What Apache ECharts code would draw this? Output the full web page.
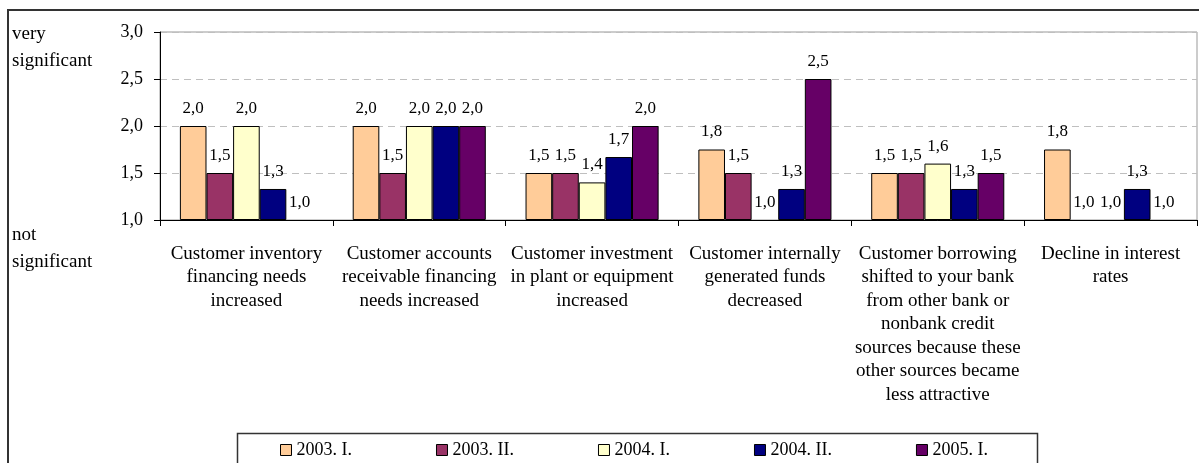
<!DOCTYPE html>
<html>
<head>
<meta charset="utf-8">
<script src="https://cdn.jsdelivr.net/npm/echarts@6/dist/echarts.min.js"></script>
<style>
  html, body { margin: 0; padding: 0; background: #fff; }
  #chart { width: 1199px; height: 463px; }
</style>
</head>
<body>
<div id="chart"></div>
<script>
// Factors behind loan demand, average answers (1 = not significant, 3 = very significant)
const categories = [
  'Customer inventory\nfinancing needs\nincreased',
  'Customer accounts\nreceivable financing\nneeds increased',
  'Customer investment\nin plant or equipment\nincreased',
  'Customer internally\ngenerated funds\ndecreased',
  'Customer borrowing\nshifted to your bank\nfrom other bank or\nnonbank credit\nsources because these\nother sources became\nless attractive',
  'Decline in interest\nrates'
];

const seriesNames = ['2003. I.', '2003. II.', '2004. I.', '2004. II.', '2005. I.'];

const values2003I  = [2.0, 2.0, 1.5, 1.75, 1.5, 1.75];
const values2003II = [1.5, 1.5, 1.5, 1.5, 1.5, 1.0];
const values2004I  = [2.0, 2.0, 1.4, 1.0, 1.6, 1.0];
const values2004II = [1.33, 2.0, 1.67, 1.33, 1.33, 1.33];
const values2005I  = [1.0, 2.0, 2.0, 2.5, 1.5, 1.0];

const yTicks = { min: 1, max: 3, step: 0.5 };

const colors = ['#FFCC99', '#993366', '#FFFFCC', '#000080', '#660066'];
const allValues = [values2003I, values2003II, values2004I, values2004II, values2005I];

const FONT = '"Liberation Serif", "Times New Roman", serif';
const fmt = v => Number(v).toFixed(1).replace('.', ',');

const chart = echarts.init(document.getElementById('chart'), null, { renderer: 'canvas' });

const series = seriesNames.map((name, i) => ({
  name,
  type: 'bar',
  // bars sitting on the axis minimum have no height, so no outline either
  data: allValues[i].map(v => ({
    value: v,
    itemStyle: v <= yTicks.min ? { borderWidth: 0 } : undefined
  })),
  barGap: '0%',
  barCategoryGap: '23%',
  itemStyle: { color: colors[i], borderColor: '#000', borderWidth: 1 },
  label: {
    show: true,
    position: 'top',
    distance: 9,
    formatter: p => fmt(p.value),
    fontFamily: FONT,
    fontSize: 17,
    color: '#000'
  }
}));

chart.setOption({
  animation: false,
  backgroundColor: '#fff',
  grid: {
    left: 160, top: 32, width: 1037, height: 188,
    show: true, borderColor: '#999', borderWidth: 1, backgroundColor: 'transparent'
  },
  legend: {
    data: seriesNames,
    left: 280, top: 440,
    padding: 0,
    itemGap: 84,
    itemWidth: 11, itemHeight: 11,
    icon: 'rect',
    itemStyle: { borderColor: '#000', borderWidth: 1 },
    textStyle: { fontFamily: FONT, fontSize: 18, color: '#000', lineHeight: 20 }
  },
  xAxis: {
    type: 'category',
    data: categories,
    axisLine: { lineStyle: { color: '#000', width: 1 } },
    axisTick: { show: true, length: 6, lineStyle: { color: '#000' } },
    axisLabel: {
      interval: 0, margin: 22, fontFamily: FONT, fontSize: 19,
      lineHeight: 23.5, color: '#000', align: 'center'
    },
    splitLine: { show: false }
  },
  yAxis: {
    type: 'value',
    min: yTicks.min, max: yTicks.max, interval: yTicks.step,
    startValue: yTicks.min,
    axisLine: { show: true, lineStyle: { color: '#000', width: 1 } },
    axisTick: { show: true, length: 6, lineStyle: { color: '#000' } },
    axisLabel: { margin: 17, fontFamily: FONT, fontSize: 18, color: '#000', formatter: v => fmt(v) },
    splitLine: { show: true, lineStyle: { color: '#bfbfbf', type: [7, 5], width: 1 } }
  },
  graphic: [
    {
      type: 'rect', silent: true, z: 100,
      shape: { x: 8, y: 10, width: 1400, height: 600 },
      style: { fill: 'none', stroke: '#333', lineWidth: 2 }
    },
    {
      type: 'rect', silent: true, z: 100,
      shape: { x: 237.5, y: 433.5, width: 800, height: 80 },
      style: { fill: 'none', stroke: '#333', lineWidth: 1.5 }
    },
    {
      type: 'text', silent: true, left: 12, top: 21,
      style: { text: 'very\nsignificant', fontFamily: FONT, fontSize: 19, lineHeight: 27, fill: '#000' }
    },
    {
      type: 'text', silent: true, left: 12, top: 222,
      style: { text: 'not\nsignificant', fontFamily: FONT, fontSize: 19, lineHeight: 27, fill: '#000' }
    }
  ],
  series
});
</script>
</body>
</html>
